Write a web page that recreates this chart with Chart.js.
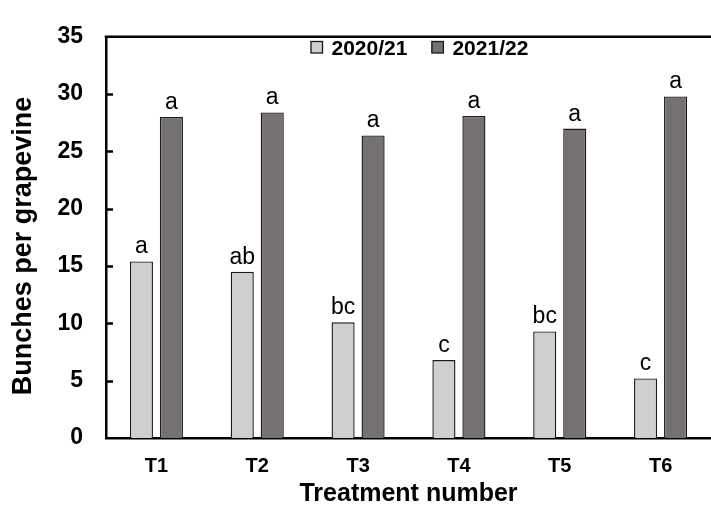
<!DOCTYPE html>
<html>
<head>
<meta charset="utf-8">
<script src="https://cdn.jsdelivr.net/npm/chart.js@4/dist/chart.umd.min.js"></script>
<style>
  html, body { margin: 0; padding: 0; background: #fff; }
  #wrap { width: 711px; height: 505px; position: relative; }
</style>
</head>
<body>
<div id="wrap"><canvas id="chart"></canvas></div>
<script>
// bunches per grapevine
const treatments = ["T1", "T2", "T3", "T4", "T5", "T6"];
const seasons = ["2020/21", "2021/22"];
const bunches2021 = [15.4, 14.5, 10.1, 6.8, 9.3, 5.2];
const bunches2022 = [28.0, 28.4, 26.4, 28.1, 27.0, 29.8];
const letters2021 = ["a", "ab", "bc", "c", "bc", "c"];
const letters2022 = ["a", "a", "a", "a", "a", "a"];
const yMin = 0;
const yMax = 35;
const yStep = 5;

const FONT = "'Liberation Sans', Arial, sans-serif";
const LIGHT = "#d0cece";
const DARK = "#767171";

// letters of significance above each bar
const letterPlugin = {
  id: "letters",
  afterDatasetsDraw(chart) {
    const ctx = chart.ctx;
    const sets = [letters2021, letters2022];
    ctx.save();
    ctx.fillStyle = "#000";
    ctx.font = `23px ${FONT}`;
    ctx.textAlign = "center";
    ctx.textBaseline = "alphabetic";
    chart.data.datasets.forEach((ds, di) => {
      chart.getDatasetMeta(di).data.forEach((bar, i) => {
        ctx.fillText(sets[di][i], bar.x, bar.y - 8);
      });
    });
    ctx.restore();
  },
};

// top frame line, inward y ticks, legend and y title
const framePlugin = {
  id: "frame",
  afterDraw(chart) {
    const ctx = chart.ctx;
    const area = chart.chartArea;
    const y = chart.scales.y;
    ctx.save();
    ctx.strokeStyle = "#000";
    ctx.lineWidth = 2.5;
    ctx.beginPath();
    ctx.moveTo(area.left - 1.25, area.top);
    ctx.lineTo(area.right, area.top);
    ctx.stroke();

    y.ticks.forEach((t) => {
      if (t.value === yMin || t.value === yMax) return;
      const py = Math.round(y.getPixelForValue(t.value)) + 0.5;
      ctx.beginPath();
      ctx.moveTo(area.left, py);
      ctx.lineTo(area.left + 7, py);
      ctx.stroke();
    });

    // legend
    ctx.font = `bold 21px ${FONT}`;
    ctx.textBaseline = "alphabetic";
    ctx.textAlign = "left";
    ctx.lineWidth = 1.3;
    ctx.strokeStyle = "#1a1a1a";
    let lx = 310.5;
    chart.data.datasets.forEach((ds) => {
      ctx.fillStyle = ds.backgroundColor;
      ctx.fillRect(lx, 41, 12, 12);
      ctx.strokeRect(lx + 0.5, 41.5, 11.5, 11.5);
      ctx.fillStyle = "#000";
      ctx.fillText(ds.label, lx + 21, 55);
      lx += 21 + ctx.measureText(ds.label).width + 24;
    });

    // y title
    ctx.translate(31, 246);
    ctx.rotate(-Math.PI / 2);
    ctx.textAlign = "center";
    ctx.font = `bold 27px ${FONT}`;
    ctx.fillText("Bunches per grapevine", 0, 0);
    ctx.restore();
  },
};

new Chart(document.getElementById("chart"), {
  type: "bar",
  data: {
    labels: treatments,
    datasets: [
      {
        label: seasons[0],
        data: bunches2021,
        backgroundColor: LIGHT,
        borderColor: "#1a1a1a",
        borderWidth: 1.4,
        barPercentage: 0.77,
        categoryPercentage: 0.595,
      },
      {
        label: seasons[1],
        data: bunches2022,
        backgroundColor: DARK,
        borderColor: "#1a1a1a",
        borderWidth: 1.4,
        barPercentage: 0.77,
        categoryPercentage: 0.595,
      },
    ],
  },
  options: {
    responsive: true,
    maintainAspectRatio: false,
    animation: false,
    layout: { padding: { top: 25, right: 0, bottom: 0, left: 0 } },
    plugins: {
      legend: { display: false },
      tooltip: { enabled: false },
    },
    scales: {
      x: {
        grid: { display: false, drawTicks: false },
        border: { display: true, color: "#000", width: 2.5 },
        ticks: {
          color: "#000",
          padding: 16,
          font: { family: FONT, size: 20, weight: "bold" },
        },
        title: {
          display: true,
          text: "Treatment number",
          color: "#000",
          padding: 0,
          font: { family: FONT, size: 25, weight: "bold", lineHeight: 0.88 },
        },
        afterFit(scale) {
          scale.height = 67;
        },
      },
      y: {
        min: yMin,
        max: yMax,
        grid: { display: false, drawTicks: false },
        border: { display: true, color: "#000", width: 2.5 },
        ticks: {
          stepSize: yStep,
          color: "#000",
          padding: 23,
          font: { family: FONT, size: 23, weight: "bold" },
        },
        afterFit(scale) {
          scale.width = 106;
        },
      },
    },
  },
  plugins: [letterPlugin, framePlugin],
});
</script>
</body>
</html>
